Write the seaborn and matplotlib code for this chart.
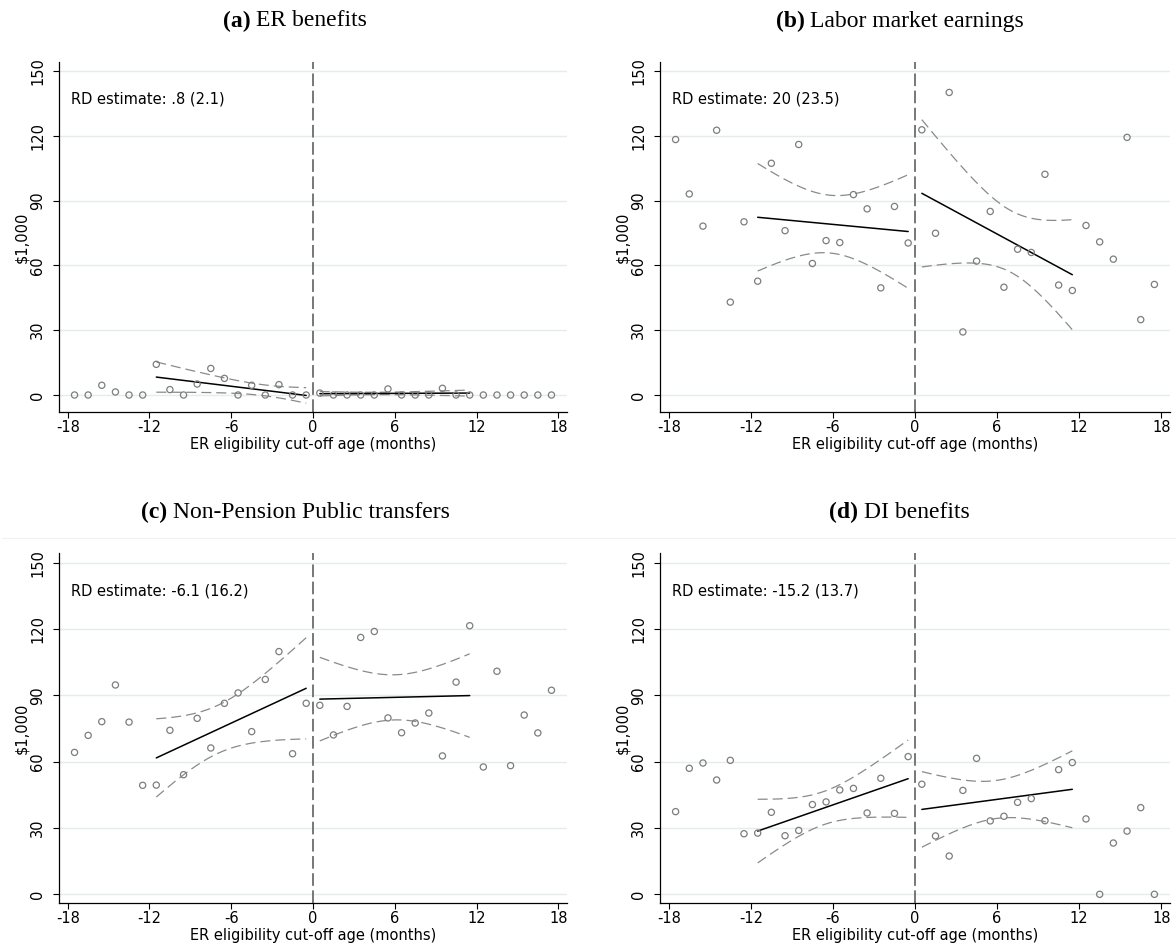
import numpy as np
import pandas as pd
import seaborn as sns
import matplotlib.pyplot as plt
from matplotlib.lines import Line2D

sns.set_theme(style="white")
plt.rcParams["font.family"] = ["DejaVu Sans"]
plt.rcParams["text.color"] = "black"
plt.rcParams["axes.labelcolor"] = "black"

# Monthly bins relative to the early-retirement eligibility cut-off
months = [-17.5, -16.5, -15.5, -14.5, -13.5, -12.5, -11.5, -10.5, -9.5, -8.5,
          -7.5, -6.5, -5.5, -4.5, -3.5, -2.5, -1.5, -0.5,
          0.5, 1.5, 2.5, 3.5, 4.5, 5.5, 6.5, 7.5, 8.5, 9.5,
          10.5, 11.5, 12.5, 13.5, 14.5, 15.5, 16.5, 17.5]

# Bin means, $1,000
er_benefits = [0, 0, 4.5, 1.4, 0, 0, 14.2, 2.5, 0, 5.1, 12.3, 7.7, 0, 4.5, 0, 4.8, 0, 0,
               0.9, 0, 0, 0, 0, 2.8, 0, 0, 0, 3.1, 0, 0, 0, 0, 0, 0, 0, 0]
labor_earnings = [118.3, 93.1, 78.2, 122.6, 43.0, 80.2, 52.7, 107.3, 76.1, 116.0,
                  60.9, 71.5, 70.6, 92.8, 86.2, 49.6, 87.3, 70.4,
                  122.8, 74.9, 140.1, 29.2, 62.0, 85.0, 49.9, 67.5, 66.0, 102.2,
                  50.9, 48.4, 78.5, 70.9, 62.9, 119.3, 34.9, 51.2]
public_transfers = [64.2, 71.9, 78.1, 94.7, 77.9, 49.3, 49.4, 74.2, 54.1, 79.6,
                    66.2, 86.4, 91.1, 73.6, 97.2, 109.8, 63.6, 86.4,
                    85.5, 72.1, 85.0, 116.2, 118.9, 79.8, 73.1, 77.5, 82.0, 62.6,
                    96.0, 121.5, 57.6, 100.9, 58.2, 81.1, 73.0, 92.3]
di_benefits = [37.4, 57.0, 59.4, 51.7, 60.6, 27.4, 27.7, 37.1, 26.5, 28.9,
               40.6, 41.8, 47.2, 47.9, 36.8, 52.5, 36.6, 62.3,
               49.8, 26.4, 17.3, 47.0, 61.5, 33.2, 35.3, 41.6, 43.3, 33.3,
               56.4, 59.6, 34.1, 0.0, 23.2, 28.6, 39.2, 0.0]

# Local linear fits within the 12-month bandwidth:
# fitted value at the outer and inner end of each side
fit_left = [[8.3, -0.2], [82.3, 75.7], [61.7, 93.2], [28.6, 52.3]]
fit_right = [[0.6, 0.9], [93.4, 55.7], [88.3, 89.9], [38.4, 47.5]]
# 95% CI half-widths at the start, middle and end of each side
ci_left = [[7.0, 3.2, 3.6], [24.9, 13.4, 26.3], [17.7, 11.3, 22.9], [14.4, 7.7, 17.5]]
ci_right = [[1.0, 0.6, 1.4], [34.1, 15.1, 25.5], [18.9, 10.2, 18.9], [17.1, 8.6, 17.4]]
span_left = [-11.5, -0.5]
span_right = [0.5, 11.5]

panel_letters = ["(a)", "(b)", "(c)", "(d)"]
panel_titles = ["ER benefits", "Labor market earnings",
                "Non-Pension Public transfers", "DI benefits"]
rd_labels = ["RD estimate: .8 (2.1)", "RD estimate: 20 (23.5)",
             "RD estimate: -6.1 (16.2)", "RD estimate: -15.2 (13.7)"]
series = [er_benefits, labor_earnings, public_transfers, di_benefits]

y_ticks = [0, 30, 60, 90, 120, 150]
x_ticks = [-18, -12, -6, 0, 6, 12, 18]

GRID = "#e4ecee"
POINT = "#7d7d7d"
BAND = "#8a8a8a"
CUTOFF = "#6c6c6c"
FS = 10.5

W, H = 1176, 947
fig = plt.figure(figsize=(W / 100, H / 100), dpi=100)

# axes boxes in pixels: left, top, right, bottom
boxes = [(59, 62, 567, 412), (660, 62, 1170, 412),
         (59, 553, 567, 903.3), (660, 553, 1170, 903.3)]
ylims = [(-7.87, 154.2), (-7.87, 154.2), (-4.07, 154.4), (-4.07, 154.4)]
title_pos = [(295, 21), (900, 21), (295, 512), (899, 512)]


def fit_with_band(span, ends, halves, n=150):
    """Straight fit line with a band whose variance is quadratic in x."""
    x0, x1 = span
    grid = np.linspace(x0, x1, n)
    fit = np.interp(grid, [x0, x1], ends)
    xs = [x0, (x0 + x1) / 2, x1]
    var = np.polyval(np.polyfit(xs, np.square(halves), 2), grid)
    half = np.sqrt(np.clip(var, 0, None))
    return grid, fit, fit - half, fit + half


for i, vals in enumerate(series):
    l, t, r, b = boxes[i]
    ax = fig.add_axes([l / W, 1 - b / H, (r - l) / W, (b - t) / H])
    df = pd.DataFrame({"month": months, "value": vals})

    for yv in y_ticks:
        ax.axhline(yv, color=GRID, lw=1.0, zorder=0)

    ax.axvline(0, color=CUTOFF, lw=1.3, ls=(0, (7, 2.5)), zorder=1)

    for span, ends, halves in ((span_left, fit_left[i], ci_left[i]),
                               (span_right, fit_right[i], ci_right[i])):
        grid, fit, lo, hi = fit_with_band(span, ends, halves)
        for band in (lo, hi):
            sns.lineplot(x=grid, y=band, ax=ax, color=BAND, lw=0.9,
                         linestyle=(0, (8, 4)), errorbar=None, zorder=2)
        sns.lineplot(x=grid, y=fit, ax=ax, color="black", lw=1.1,
                     errorbar=None, zorder=3)

    sns.scatterplot(data=df, x="month", y="value", ax=ax, marker="o",
                    s=20, facecolor="none", edgecolor=POINT, linewidth=0.9,
                    zorder=4, legend=False)

    ax.set_xlim(-18.64, 18.64)
    ax.set_ylim(*ylims[i])
    ax.set_xticks(x_ticks)
    ax.set_xticklabels([str(v) for v in x_ticks], fontsize=FS)
    ax.set_yticks(y_ticks)
    ax.set_yticklabels([str(v) for v in y_ticks], fontsize=FS,
                       rotation=90, va="center")
    ax.tick_params(axis="both", direction="out", length=4, width=0.8,
                   color="black", labelcolor="black", bottom=True, left=True)
    ax.tick_params(axis="x", pad=1.5)
    ax.tick_params(axis="y", pad=6)
    for side_name in ("top", "right"):
        ax.spines[side_name].set_visible(False)
    for side_name in ("left", "bottom"):
        ax.spines[side_name].set_color("black")
        ax.spines[side_name].set_linewidth(0.9)
    ax.set_facecolor("white")

    ax.set_xlabel("ER eligibility cut-off age (months)", fontsize=FS, labelpad=1.5)
    ax.set_ylabel("$1,000", fontsize=FS)
    ax.yaxis.set_label_coords(-0.058, 0.5)

    ax.text(-17.75, 137, rd_labels[i], fontsize=FS, ha="left", va="center",
            color="black")

# faint border line above the lower row
fig.add_artist(Line2D([0.002, 1.0], [1 - 538 / H, 1 - 538 / H],
                      color="#edf2f4", lw=0.8))

# panel titles: bold letter followed by regular caption, centred as a pair
fig.canvas.draw()
renderer = fig.canvas.get_renderer()
for i, (cx, cy) in enumerate(title_pos):
    t1 = fig.text(0, 0, panel_letters[i] + " ", fontsize=17, color="black",
                  family="Liberation Serif", weight="bold", va="center")
    t2 = fig.text(0, 0, panel_titles[i], fontsize=17, color="black",
                  family="Liberation Serif", va="center")
    w1 = t1.get_window_extent(renderer).width
    w2 = t2.get_window_extent(renderer).width
    x0 = cx - (w1 + w2) / 2
    t1.set_position((x0 / W, 1 - cy / H))
    t2.set_position(((x0 + w1) / W, 1 - cy / H))

fig.savefig("out.png", dpi=100, facecolor="white")
